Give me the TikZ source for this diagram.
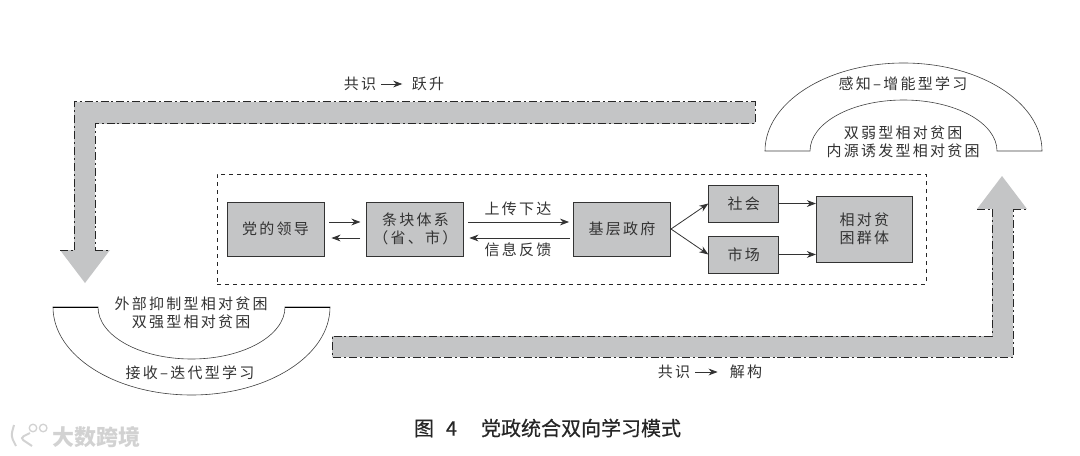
\documentclass[tikz,border=0pt]{standalone}
\usepackage{fontspec}
\usepackage{xcolor}
\setmainfont{Noto Sans CJK SC}
\newfontfamily\spacedfont[LetterSpace=15]{Noto Sans CJK SC}
\newfontfamily\capfont[FakeBold=0.5]{Noto Sans CJK SC}
\usetikzlibrary{arrows.meta,positioning}
\definecolor{bandgrey}{HTML}{C4C5C6}
\definecolor{inkgrey}{HTML}{333333}
\definecolor{markgrey}{HTML}{D2D2D2}

\begin{document}
\begin{tikzpicture}[x=0.75pt,y=-0.75pt,
  box/.style={draw=inkgrey,fill=bandgrey,line width=0.7pt,align=center,minimum height=40.5pt,minimum width=72.75pt,inner sep=0pt},
  smallbox/.style={box,minimum height=27.75pt,minimum width=52.5pt},
  goalbox/.style={box,minimum height=49.5pt,minimum width=72pt},
  txt/.style={text=inkgrey,align=center,inner sep=0pt,font=\spacedfont\fontsize{11.25}{13.5}\selectfont},
  arr/.style={-{Stealth[length=2.4mm,width=1.8mm]},line width=0.6pt,inkgrey},
  band/.style={draw=none,fill=bandgrey},
  bandline/.style={line width=0.75pt,black!85,dash pattern=on 6pt off 2.2pt on 1.5pt off 2.2pt},
  halfring/.style={draw=black!75,line width=0.45pt,fill=white}]
\useasboundingbox (0,0) rectangle (1080,456);
% upper band, turning down on the left
\fill[band] (755,102) -- (74,102) -- (74,250) -- (60,250) -- (85,283) -- (110,250) -- (95,250) -- (95,124) -- (755,124) -- cycle;
\draw[bandline] (74,250) -- (74,102) -- (755,102) -- (755,124) -- (95,124) -- (95,250);
\draw[bandline] (60,250) -- (74,250) (95,250) -- (110,250);
% lower band, turning up on the right
\fill[band] (332,336) -- (992,336) -- (992,209) -- (977,209) -- (1002,176) -- (1027,209) -- (1013,209) -- (1013,357) -- (332,357) -- cycle;
\draw[bandline] (992,209) -- (992,336) -- (332,336) -- (332,357) -- (1013,357) -- (1013,209);
\draw[bandline] (977,209) -- (992,209) (1013,209) -- (1027,209);
% middle part
\node[draw=black!85,line width=0.7pt,dashed,minimum width=531.75pt,minimum height=82.5pt] (frm) at (571.5,229) {};
\node[box,txt] (lead) at (275.5,229) {党的领导};
\node[box,txt,right=31.5pt of lead] (tiao) {条块体系\\（省、市）};
\node[box,txt,right=81.5pt of tiao] (base) {基层政府};
\node[smallbox,txt,right=28pt of base,yshift=19.1pt] (she) {社会};
\node[smallbox,txt,right=28pt of base,yshift=-19.1pt] (mkt) {市场};
\node[goalbox,txt,right=27.5pt of she,yshift=-19.1pt] (goal) {相对贫\\困群体};
\draw[arr] ([shift={(5,-7)}]lead.east) -- ([shift={(-6,-7)}]tiao.west);
\draw[arr] ([shift={(-6,9)}]tiao.west) -- ([shift={(7,9)}]lead.east);
\draw[arr] ([shift={(4,-7)}]tiao.east) -- ([shift={(-4,-7)}]base.west);
\draw[arr] ([shift={(-3,9)}]base.west) -- ([shift={(5,9)}]tiao.east);
\draw[arr] (base.east) -- (she.west);
\draw[arr] (base.east) -- (mkt.west);
\draw[arr] (she.east) -- (she.east -| goal.west);
\draw[arr] (mkt.east) -- (mkt.east -| goal.west);
\node[txt] (up) at (518,209) {上传下达};
\node[txt] (down) at (518,250) {信息反馈};
% upper right half ring
\draw[halfring] (765,151) arc[start angle=180,end angle=360,x radius=138.5,y radius=88] -- (997,151) arc[start angle=360,end angle=180,x radius=93.5,y radius=51] -- cycle;
\node[txt] (sense) at (903,84) {感知–增能型学习};
\node[txt] (weak) at (903,142) {双弱型相对贫困\\内源诱发型相对贫困};
% lower left half ring
\draw[halfring] (53,307) arc[start angle=180,end angle=0,x radius=138.5,y radius=88] -- (285,307) arc[start angle=0,end angle=180,x radius=93.5,y radius=52] -- cycle;
\draw[line width=0.6pt,black] (53,307) -- (98,307) (285,307) -- (330,307);
\node[txt] (strong) at (191,313) {外部抑制型相对贫困\\双强型相对贫困};
\node[txt] (recv) at (190,373) {接收–迭代型学习};
% labels of the two bands
\node[txt] (cons1) at (360,84) {共识};
\node[txt] (rise) at (428,84) {跃升};
\draw[arr] (cons1.east) ++(5,0) -- ([xshift=-7]rise.west);
\node[txt] (cons2) at (674,372) {共识};
\node[txt] (decon) at (746,372) {解构};
\draw[arr] (cons2.east) ++(5,0) -- ([xshift=-9]decon.west);
% caption and mark
\node[inner sep=0pt,text=black!85,font=\capfont\fontsize{15}{18}\selectfont] (cap) at (547.5,428) {图\hspace{0.6em}4\hspace{1.2em}党政统合双向学习模式};
\node[inner sep=0pt,text=markgrey,font=\bfseries\fontsize{16.5}{18}\selectfont] (mark) at (96,437) {大数跨境};
\draw[markgrey,line width=1.5pt,rounded corners=3pt] (14,425) -- (11,436) -- (16,446) (30,433) -- (20,438) -- (32,446);
\node[draw=markgrey,line width=1pt,circle,inner sep=2pt] (ringa) at (33,428) {};
\node[draw=markgrey,line width=1pt,circle,inner sep=2pt,right=1pt of ringa] (ringb) {};
\end{tikzpicture}
\end{document}
